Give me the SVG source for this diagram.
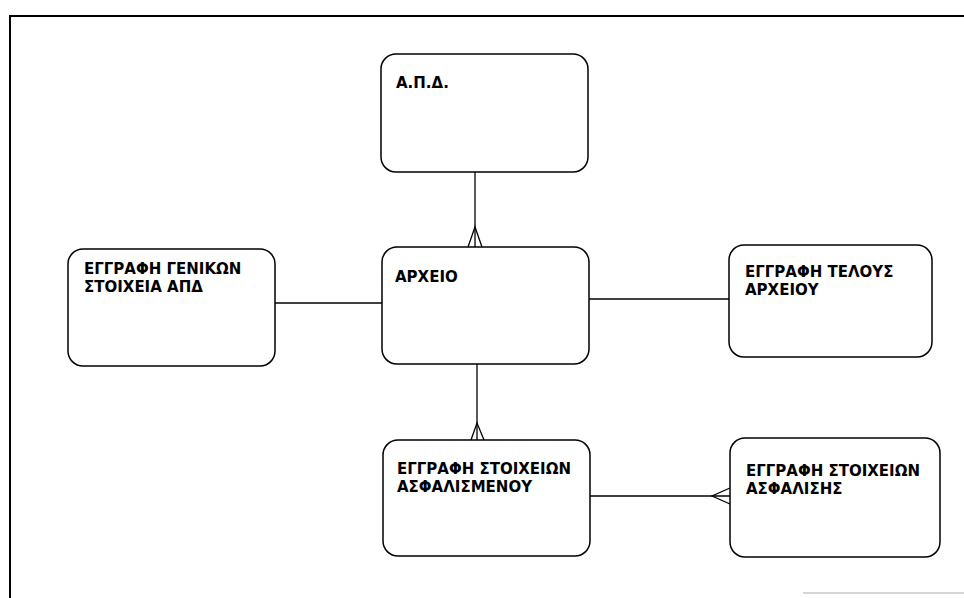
<svg xmlns="http://www.w3.org/2000/svg" width="964" height="598" viewBox="0 0 964 598">
<style>
.box{fill:#fff;stroke:#000;stroke-width:1.5}
.lbl{font-family:"DejaVu Sans","Liberation Sans",sans-serif;font-weight:bold;font-size:15px;fill:#000}
.ln{stroke:#000;stroke-width:1.3;fill:none}
.frame{stroke:#000;stroke-width:2;fill:none}
</style>
<rect width="964" height="598" fill="#fff"/>
<g id="frame">
<path class="frame" d="M10,598 V16 H964"/>
<line x1="803" y1="593" x2="964" y2="593" stroke="#c8c8c8" stroke-width="1.5"/>
</g>
<g id="connectors">
<line class="ln" x1="475" y1="172" x2="475" y2="247"/>
<path class="ln" d="M468,247 L475,227 L482,247"/>
<line class="ln" x1="477" y1="364" x2="477" y2="440"/>
<path class="ln" d="M471,440 L477,423 L484,440"/>
<line class="ln" x1="275" y1="303" x2="382" y2="303"/>
<line class="ln" x1="589" y1="299" x2="729" y2="299"/>
<line class="ln" x1="590" y1="496" x2="730" y2="496"/>
<path class="ln" d="M730,488 L712,496 L730,504"/>
</g>
<g id="apd">
<rect class="box" x="381" y="54" width="207" height="118" rx="15"/>
<text class="lbl" x="396" y="88">Α.Π.Δ.</text>
</g>
<g id="arxeio">
<rect class="box" x="382" y="247" width="207" height="117" rx="15"/>
<text class="lbl" x="395" y="282">ΑΡΧΕΙΟ</text>
</g>
<g id="genikon">
<rect class="box" x="68" y="249" width="207" height="117" rx="15"/>
<text class="lbl" x="84" y="274">ΕΓΓΡΑΦΗ ΓΕΝΙΚΩΝ</text>
<text class="lbl" x="84" y="291.5">ΣΤΟΙΧΕΙΑ ΑΠΔ</text>
</g>
<g id="telous">
<rect class="box" x="729" y="245" width="203" height="112" rx="15"/>
<text class="lbl" x="745" y="277">ΕΓΓΡΑΦΗ ΤΕΛΟΥΣ</text>
<text class="lbl" x="745" y="294.5">ΑΡΧΕΙΟΥ</text>
</g>
<g id="asfalismenou">
<rect class="box" x="383" y="440" width="207" height="116" rx="15"/>
<text class="lbl" x="397" y="474">ΕΓΓΡΑΦΗ ΣΤΟΙΧΕΙΩΝ</text>
<text class="lbl" x="397" y="491.5">ΑΣΦΑΛΙΣΜΕΝΟΥ</text>
</g>
<g id="asfalisis">
<rect class="box" x="730" y="438" width="210" height="119" rx="15"/>
<text class="lbl" x="746" y="476">ΕΓΓΡΑΦΗ ΣΤΟΙΧΕΙΩΝ</text>
<text class="lbl" x="746" y="493.5">ΑΣΦΑΛΙΣΗΣ</text>
</g>
</svg>
